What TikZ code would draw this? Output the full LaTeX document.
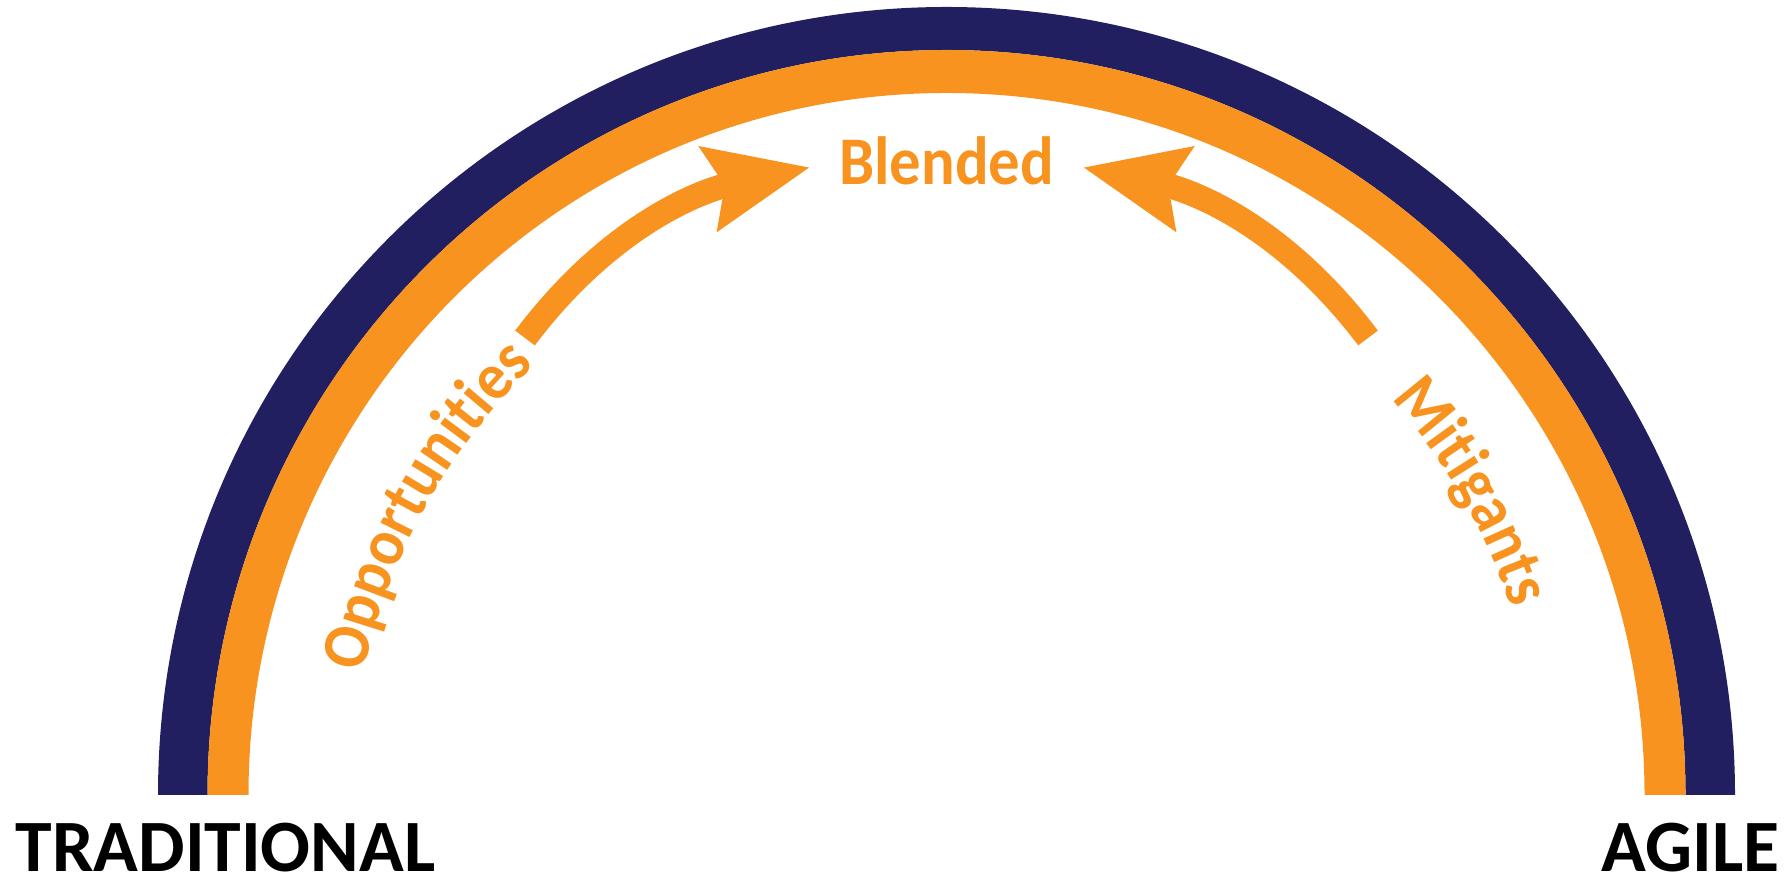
\documentclass[tikz,border=0pt]{standalone}
\usepackage{fontspec}
\setmainfont{Carlito}
\newfontfamily\arcfont[FakeStretch=0.92]{Carlito Bold}
\usetikzlibrary{arrows.meta,decorations.text}
\definecolor{archnavy}{HTML}{221F60}
\definecolor{archorange}{HTML}{F7931E}

\begin{document}
\begin{tikzpicture}[
  sidelabel/.style={font=\bfseries\fontsize{21pt}{24pt}\selectfont, inner sep=0pt},
  midlabel/.style={font=\arcfont\fontsize{19.4pt}{22pt}\selectfont, text=archorange, inner sep=0pt},
  bendarrow/.style={archorange, line width=7pt, shorten >=2.9mm, -{Stealth[length=10.2mm, width=8.3mm, inset=1.5mm]}},
  arcword/.style={decorate, decoration={text along path, text align=center, text color=archorange, text={|\arcfont\fontsize{19pt}{22pt}\selectfont|#1}}}
]
\useasboundingbox (0,0) rectangle (17.90,8.78);
\coordinate (c) at (9.465,0.83);
% arch
\fill[archnavy] (1.58,0.83) arc[start angle=180, end angle=0, x radius=7.885, y radius=7.88] -- (16.855,0.83) arc[start angle=0, end angle=180, x radius=7.39, y radius=7.45] -- cycle;
\fill[archorange] (2.075,0.83) arc[start angle=180, end angle=0, x radius=7.39, y radius=7.45] -- (16.445,0.83) arc[start angle=0, end angle=180, x radius=6.98, y radius=7.02] -- cycle;
% end labels
\node[sidelabel, anchor=base west] (trad) at (0.15,0.06) {TRADITIONAL};
\node[sidelabel, anchor=base east] (agile) at (17.80,0.06) {AGILE};
% middle label
\node[midlabel, anchor=base] (blend) at (9.465,6.93) {Blended};
% arrows
\coordinate (opptail) at (5.25,5.40);
\coordinate (mittail) at (13.68,5.40);
\draw[bendarrow] (opptail) to[out=53, in=192] (blend.west);
\draw[bendarrow] (mittail) to[out=127, in=-12] (blend.east);
% words along the arch
\path[arcword=Opportunities] ([shift={(176:5.95)}]c) arc[start angle=176, end angle=126, radius=5.95];
\path[arcword=Mitigants] ([shift={(55:5.95)}]c) arc[start angle=55, end angle=5, radius=5.95];
\end{tikzpicture}
\end{document}
